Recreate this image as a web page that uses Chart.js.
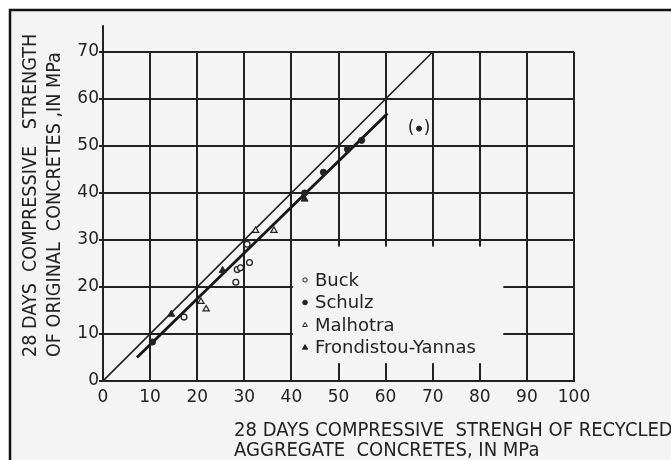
<!DOCTYPE html>
<html>
<head>
<meta charset="utf-8">
<title>Recycled aggregate concrete strength</title>
<script src="https://cdn.jsdelivr.net/npm/chart.js@4/dist/chart.umd.min.js"></script>
<style>
  html, body { margin: 0; padding: 0; background: #ffffff; overflow: hidden; }
  #wrap { position: relative; width: 671px; height: 460px; }
</style>
</head>
<body>
<div id="wrap"><canvas id="c" width="671" height="460"></canvas></div>
<script>
// Tick values on both axes
const xTicks = [0, 10, 20, 30, 40, 50, 60, 70, 80, 90, 100];
const yTicks = [0, 10, 20, 30, 40, 50, 60, 70];

// Axis titles (two lines each)
const xTitleLines = ['28 DAYS COMPRESSIVE  STRENGH OF RECYCLED', 'AGGREGATE  CONCRETES, IN MPa'];
const yTitleLines = ['28 DAYS  COMPRESSIVE   STRENGTH', 'OF ORIGINAL  CONCRETES ,IN MPa'];

// Series: strength of recycled-aggregate concrete (x) vs original concrete (y), MPa
const seriesNames = ['Buck', 'Schulz', 'Malhotra', 'Frondistou-Yannas'];
const buckX = [17.2, 28.2, 28.5, 29.2, 31.1, 30.6];
const buckY = [13.6, 21.0, 23.7, 24.1, 25.2, 29.1];
const schulzX = [10.5, 42.8, 46.8, 51.9, 54.9];
const schulzY = [8.3, 40.0, 44.4, 49.3, 51.2];
const malhotraX = [20.8, 21.9, 32.4, 36.3];
const malhotraY = [16.9, 15.3, 32.0, 32.0];
const frondX = [14.5, 25.4, 42.8];
const frondY = [14.2, 23.5, 38.7];

// Bracketed (excluded) result
const outlierX = [67.1];
const outlierY = [53.7];

// Line of equality and fitted line
const equalX = [0, 70];
const equalY = [0, 70];
const fitX = [7.2, 60.4];
const fitY = [5.0, 56.9];

const pts = (xs, ys) => xs.map((x, i) => ({ x: x, y: ys[i] }));

const INK = '#222222';
const PAPER = '#f4f4f4';
const FONT = '"DejaVu Sans", "Liberation Sans", sans-serif';

// Legend box region, in data units; grid lines are interrupted there
const legendArea = { x0: 40, x1: 85, y0: 3.8, y1: 28.6, markerX: 42.9, textX: 45.0, firstRowY: 21.5, rowGap: 4.8 };
const yAxisTop = 75.7;

const framePlugin = {
  id: 'frame',
  beforeDraw(chart) {
    const ctx = chart.ctx;
    ctx.save();
    ctx.fillStyle = '#ffffff';
    ctx.fillRect(0, 0, chart.width, chart.height);
    ctx.fillStyle = PAPER;
    ctx.fillRect(10, 10, chart.width - 10, chart.height - 10);
    ctx.strokeStyle = '#111111';
    ctx.lineWidth = 2.5;
    ctx.beginPath();
    ctx.moveTo(10, chart.height);
    ctx.lineTo(10, 10);
    ctx.lineTo(chart.width, 10);
    ctx.stroke();
    ctx.restore();
  }
};

const legendPlugin = {
  id: 'insetLegend',
  beforeDatasetsDraw(chart) {
    const ctx = chart.ctx;
    const xs = chart.scales.x, ys = chart.scales.y;
    const L = legendArea;
    // blank the grid behind the legend
    const left = xs.getPixelForValue(L.x0) + 1.5;
    const right = xs.getPixelForValue(L.x1);
    const top = ys.getPixelForValue(L.y1);
    const bottom = ys.getPixelForValue(L.y0);
    ctx.save();
    ctx.fillStyle = PAPER;
    ctx.fillRect(left, top, right - left, bottom - top);

    // y axis continues above the top grid line
    ctx.strokeStyle = INK;
    ctx.lineWidth = 2;
    ctx.beginPath();
    ctx.moveTo(xs.getPixelForValue(0), ys.getPixelForValue(70));
    ctx.lineTo(xs.getPixelForValue(0), ys.getPixelForValue(yAxisTop));
    ctx.stroke();

    // legend entries
    ctx.font = '18px ' + FONT;
    ctx.textBaseline = 'middle';
    ctx.textAlign = 'left';
    seriesNames.forEach((name, i) => {
      const ds = chart.data.datasets[i];
      const cy = ys.getPixelForValue(L.firstRowY - i * L.rowGap);
      ctx.fillStyle = ds.backgroundColor;
      ctx.strokeStyle = ds.borderColor;
      ctx.lineWidth = 1;
      Chart.helpers.drawPoint(ctx, { pointStyle: ds.pointStyle, radius: ds.pointRadius * 0.75, borderWidth: 1, rotation: 0 },
        xs.getPixelForValue(L.markerX), cy);
      ctx.fillStyle = INK;
      ctx.fillText(name, xs.getPixelForValue(L.textX), cy + 1);
    });
    ctx.restore();
  },
  afterDatasetsDraw(chart) {
    // brackets around the excluded result
    const ctx = chart.ctx;
    const xs = chart.scales.x, ys = chart.scales.y;
    const px = xs.getPixelForValue(outlierX[0]);
    const py = ys.getPixelForValue(outlierY[0]);
    ctx.save();
    ctx.fillStyle = INK;
    ctx.font = '17px ' + FONT;
    ctx.textBaseline = 'middle';
    ctx.textAlign = 'center';
    ctx.fillText('(', px - 8, py);
    ctx.fillText(')', px + 8, py);
    ctx.restore();
  }
};

// Titles use a slightly condensed lettering
const titlePlugin = {
  id: 'axisTitles',
  afterDraw(chart) {
    const ctx = chart.ctx;
    ctx.save();
    ctx.fillStyle = INK;
    ctx.font = '20px ' + FONT;
    ctx.textAlign = 'left';
    ctx.textBaseline = 'alphabetic';
    ctx.save();
    ctx.translate(234, 0);
    ctx.scale(0.9, 1);
    ctx.fillText(xTitleLines[0], 0, 436);
    ctx.fillText(xTitleLines[1], 0, 456);
    ctx.restore();
    ctx.translate(0, 357);
    ctx.rotate(-Math.PI / 2);
    ctx.scale(0.88, 1);
    ctx.fillText(yTitleLines[0], 0, 36);
    ctx.fillText(yTitleLines[1], 0, 60);
    ctx.restore();
  }
};

new Chart(document.getElementById('c'), {
  type: 'scatter',
  data: {
    datasets: [
      { label: seriesNames[0], data: pts(buckX, buckY), pointStyle: 'circle', pointRadius: 2.9,
        borderColor: INK, backgroundColor: PAPER, borderWidth: 1.3 },
      { label: seriesNames[1], data: pts(schulzX, schulzY), pointStyle: 'circle', pointRadius: 3.1,
        borderColor: INK, backgroundColor: INK, borderWidth: 1 },
      { label: seriesNames[2], data: pts(malhotraX, malhotraY), pointStyle: 'triangle', pointRadius: 3.6,
        borderColor: INK, backgroundColor: PAPER, borderWidth: 1.2 },
      { label: seriesNames[3], data: pts(frondX, frondY), pointStyle: 'triangle', pointRadius: 4,
        borderColor: INK, backgroundColor: INK, borderWidth: 1 },
      { label: 'excluded', data: pts(outlierX, outlierY), pointStyle: 'circle', pointRadius: 2.5,
        borderColor: INK, backgroundColor: INK, borderWidth: 1 },
      { type: 'line', label: 'equality', data: pts(equalX, equalY), borderColor: INK, borderWidth: 1.6,
        pointRadius: 0, fill: false },
      { type: 'line', label: 'fit', data: pts(fitX, fitY), borderColor: '#161616', borderWidth: 2.8,
        pointRadius: 0, fill: false }
    ]
  },
  options: {
    responsive: false,
    animation: false,
    events: [],
    layout: { padding: { left: 0, top: 52, right: 97, bottom: 0 } },
    plugins: { legend: { display: false }, tooltip: { enabled: false } },
    scales: {
      x: {
        type: 'linear', min: 0, max: 100,
        afterBuildTicks(s) { s.ticks = xTicks.map(v => ({ value: v })); },
        afterFit(s) { s.height = 79; },
        grid: { color: INK, lineWidth: 2, drawTicks: false },
        border: { color: INK, width: 2 },
        ticks: { color: INK, font: { family: FONT, size: 17 }, padding: 6, maxRotation: 0, autoSkip: false }
      },
      y: {
        type: 'linear', min: 0, max: 70,
        afterBuildTicks(s) { s.ticks = yTicks.map(v => ({ value: v })); },
        afterFit(s) { s.width = 103; },
        grid: { color: INK, lineWidth: 2, drawTicks: true, tickLength: 4 },
        border: { color: INK, width: 2 },
        ticks: { color: INK, font: { family: FONT, size: 17 }, padding: 0, autoSkip: false }
      }
    }
  },
  plugins: [framePlugin, legendPlugin, titlePlugin]
});
</script>
</body>
</html>
